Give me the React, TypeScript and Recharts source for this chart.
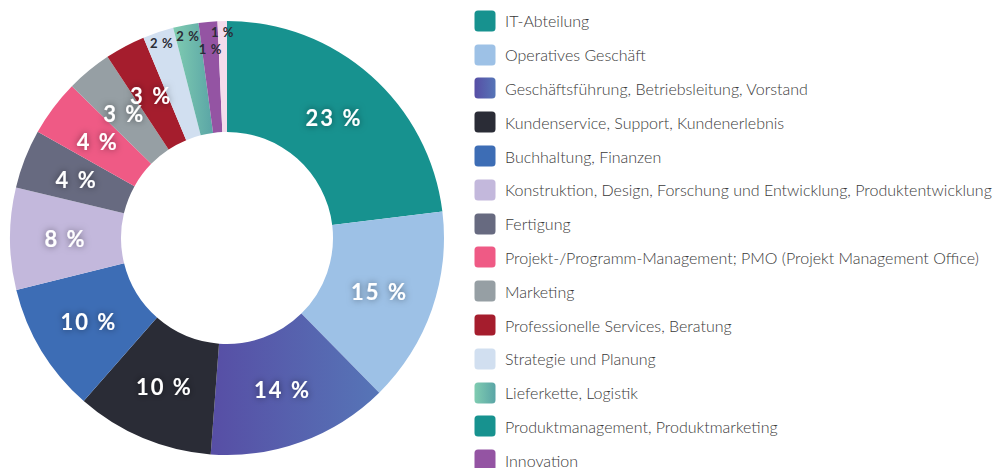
import { PieChart, Pie, Cell, Legend } from 'recharts';

const names = [
  'IT-Abteilung',
  'Operatives Geschäft',
  'Geschäftsführung, Betriebsleitung, Vorstand',
  'Kundenservice, Support, Kundenerlebnis',
  'Buchhaltung, Finanzen',
  'Konstruktion, Design, Forschung und Entwicklung, Produktentwicklung',
  'Fertigung',
  'Projekt-/Programm-Management; PMO (Projekt Management Office)',
  'Marketing',
  'Professionelle Services, Beratung',
  'Strategie und Planung',
  'Lieferkette, Logistik',
  'Produktmanagement, Produktmarketing',
  'Innovation',
  'Sonstige',
];

const shares = [23.1, 14.6, 13.6, 10.3, 9.7, 7.6, 4.4, 4.2, 3.4, 3.0, 2.3, 1.9, 0, 1.4, 0.7];

const fills = [
  '#17928f',
  '#9dc1e6',
  'url(#gradLead)',
  '#2a2c36',
  '#3d6db5',
  '#c3b8dc',
  '#676a80',
  '#ef5a85',
  '#969fa4',
  '#a51d2d',
  '#d1dff0',
  'url(#gradLogistics)',
  '#17928f',
  '#9454a3',
  '#f3dcec',
];

const data = names.map((name, i) => ({ name, value: shares[i] }));

const RAD = Math.PI / 180;

function renderLabel(props: any) {
  const { cx, cy, midAngle, innerRadius, outerRadius, percent, index } = props;
  if (!percent) return null;
  const small = percent < 0.025;
  let r = (innerRadius + outerRadius) / 2;
  if (small) r = percent < 0.015 && index % 2 === 1 ? 190 : 206;
  const x = cx + r * Math.cos(-midAngle * RAD);
  const y = cy + r * Math.sin(-midAngle * RAD);
  const text = `${Math.round(percent * 100)} %`;
  if (small) {
    return (
      <text x={x} y={y} textAnchor="middle" dominantBaseline="central"
        fill="#2a2c36" fontSize={13} fontWeight={700} fontFamily="Lato, sans-serif"
        letterSpacing={0.6}>
        {text}
      </text>
    );
  }
  return (
    <text x={x} y={y} textAnchor="middle" dominantBaseline="central"
      fill="#ffffff" fontSize={22} fontWeight={700} fontFamily="Lato, sans-serif"
      letterSpacing={2} filter="url(#labelGlow)">
      {text}
    </text>
  );
}

function LegendList() {
  return (
    <div style={{ fontFamily: 'Lato, sans-serif' }}>
      {names.map((name, i) => (
        <div key={name} style={{ display: 'flex', alignItems: 'center', height: 33.8 }}>
          <svg width={22} height={22} style={{ flex: 'none' }}>
            <rect x={0.5} y={0.5} width={21} height={21} rx={3.5} fill={fills[i]} />
          </svg>
          <span style={{ marginLeft: 9, fontSize: 16, fontWeight: 300, color: '#3a3a3a', whiteSpace: 'nowrap' }}>
            {name}
          </span>
        </div>
      ))}
    </div>
  );
}

export default function App() {
  return (
    <div style={{ position: 'absolute', left: 0, top: 0, width: 994, height: 468, overflow: 'hidden', background: '#fff' }}>
      <PieChart width={994} height={468} margin={{ top: 0, right: 0, bottom: 0, left: 0 }}>
        <defs>
          <linearGradient id="gradLead" x1="0" y1="0" x2="1" y2="0">
            <stop offset="0%" stopColor="#574ea5" />
            <stop offset="100%" stopColor="#5675b7" />
          </linearGradient>
          <linearGradient id="gradLogistics" x1="0" y1="0" x2="1" y2="0">
            <stop offset="0%" stopColor="#80ccb1" />
            <stop offset="100%" stopColor="#5aa5a6" />
          </linearGradient>
          <filter id="labelGlow" x="-50%" y="-50%" width="200%" height="200%">
            <feDropShadow dx="0" dy="0" stdDeviation="3.5" floodColor="#000" floodOpacity="0.5" />
          </filter>
        </defs>
        <Pie
          data={data}
          dataKey="value"
          nameKey="name"
          cx={227}
          cy={238}
          innerRadius={106}
          outerRadius={217}
          startAngle={90}
          endAngle={-270}
          stroke="none"
          label={renderLabel}
          labelLine={false}
          isAnimationActive={false}
        >
          {data.map((d, i) => (
            <Cell key={d.name} fill={fills[i]} />
          ))}
        </Pie>
        <Legend
          layout="vertical"
          align="right"
          verticalAlign="top"
          content={LegendList}
          wrapperStyle={{ left: 474, top: 4, right: 'auto', width: 520 }}
        />
      </PieChart>
    </div>
  );
}
